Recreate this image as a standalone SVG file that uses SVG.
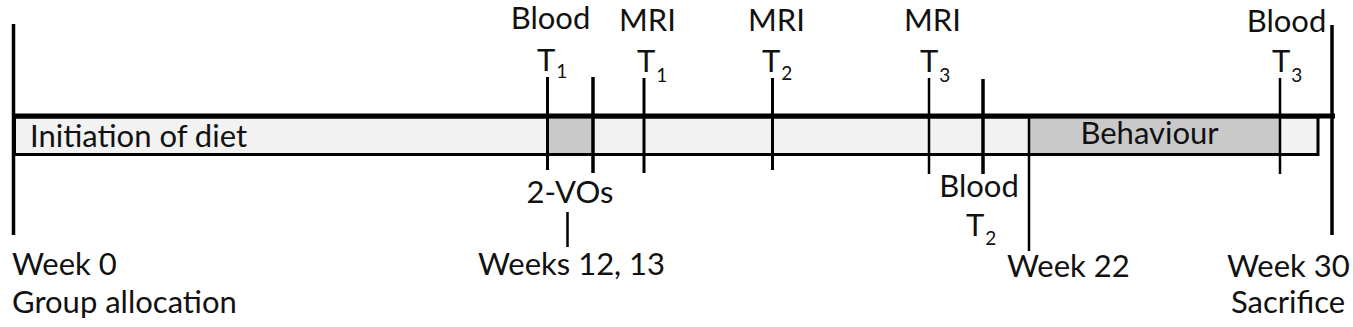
<svg xmlns="http://www.w3.org/2000/svg" width="1353" height="327" viewBox="0 0 1353 327">
<style>
text{font-family:Lato,"Open Sans","Liberation Sans",sans-serif;font-size:31px;fill:#111}
.sub{font-size:19px}
.mid{text-anchor:middle}
.ln{stroke:#000;fill:none}
</style>
<rect width="1353" height="327" fill="#fff"/>
<g id="timeline-bar">
<rect x="14.5" y="117" width="1303.5" height="37.5" fill="#f2f2f2" stroke="#000" stroke-width="3"/>
<rect x="547.5" y="118.5" width="45.5" height="34.5" fill="#c9c9c9"/>
<rect x="1029" y="118.5" width="251" height="34.5" fill="#c9c9c9"/>
<line class="ln" x1="13" y1="116" x2="1335" y2="116" stroke-width="5"/>
</g>
<g id="connectors">
<line class="ln" x1="13.5" y1="24" x2="13.5" y2="235" stroke-width="3.5"/>
<line class="ln" x1="1332" y1="25" x2="1332" y2="235" stroke-width="3.5"/>
<line class="ln" x1="547.5" y1="77" x2="547.5" y2="170" stroke-width="3"/>
<line class="ln" x1="593" y1="77" x2="593" y2="173" stroke-width="3.5"/>
<line class="ln" x1="644" y1="78" x2="644" y2="173" stroke-width="3"/>
<line class="ln" x1="772.5" y1="78" x2="772.5" y2="170" stroke-width="3"/>
<line class="ln" x1="929" y1="78" x2="929" y2="174" stroke-width="2.5"/>
<line class="ln" x1="983" y1="79" x2="983" y2="174" stroke-width="3.5"/>
<line class="ln" x1="1029" y1="116" x2="1029" y2="251" stroke-width="2.5"/>
<line class="ln" x1="1280" y1="78" x2="1280" y2="174" stroke-width="2.5"/>
<line class="ln" x1="567.5" y1="212" x2="567.5" y2="247" stroke-width="2.5"/>
</g>
<g id="node-diet"><text x="30" y="147">Initiation of diet</text></g>
<g id="node-behaviour"><text class="mid" x="1149.5" y="144">Behaviour</text></g>
<g id="node-blood-t1"><text class="mid" x="550.5" y="29">Blood</text><text x="537" y="71">T<tspan class="sub" dx="1" dy="7">1</tspan></text></g>
<g id="node-mri-t1"><text class="mid" x="647.5" y="31">MRI</text><text x="637" y="72">T<tspan class="sub" dx="1" dy="10">1</tspan></text></g>
<g id="node-mri-t2"><text class="mid" x="776.5" y="31">MRI</text><text x="762" y="72">T<tspan class="sub" dx="1" dy="8">2</tspan></text></g>
<g id="node-mri-t3"><text class="mid" x="932.5" y="31">MRI</text><text x="920" y="72">T<tspan class="sub" dx="1" dy="10">3</tspan></text></g>
<g id="node-blood-t2"><text class="mid" x="979" y="197">Blood</text><text x="966" y="236">T<tspan class="sub" dx="1" dy="9">2</tspan></text></g>
<g id="node-blood-t3"><text class="mid" x="1286.5" y="32">Blood</text><text x="1272" y="72">T<tspan class="sub" dx="1" dy="10">3</tspan></text></g>
<g id="node-2vos"><text class="mid" x="570" y="203">2-VOs</text></g>
<g id="node-weeks12"><text class="mid" x="571.5" y="275">Weeks 12, 13</text></g>
<g id="node-week0"><text x="12" y="275">Week 0</text><text x="12" y="313">Group allocation</text></g>
<g id="node-week22"><text x="1007" y="277">Week 22</text></g>
<g id="node-week30"><text x="1227" y="277">Week 30</text><text x="1231" y="313">Sacrifice</text></g>
</svg>
